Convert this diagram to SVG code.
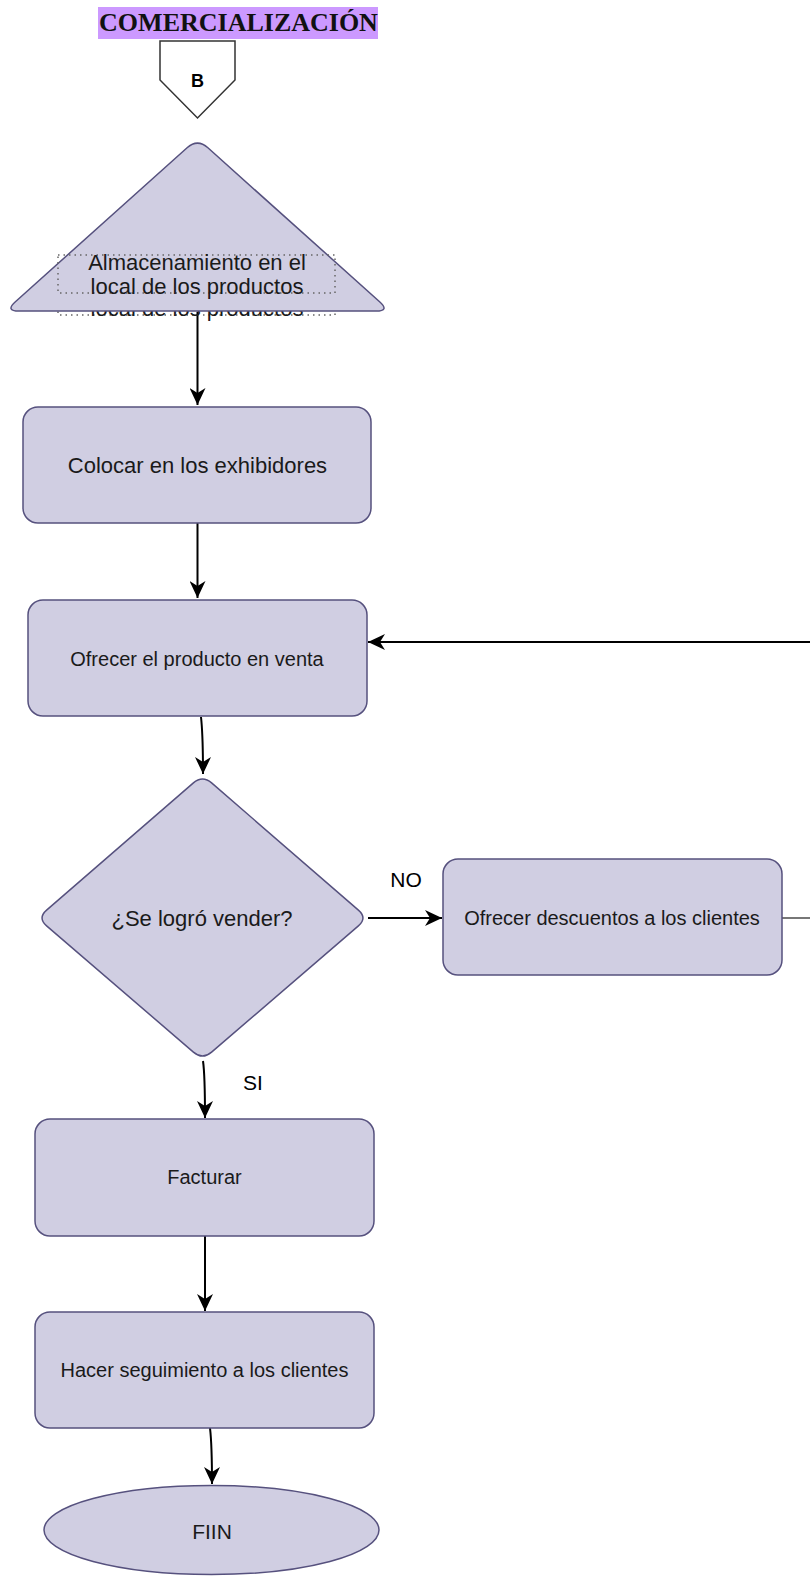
<svg xmlns="http://www.w3.org/2000/svg" width="810" height="1577" viewBox="0 0 810 1577">
<defs>
<style>
.node{fill:#d0cee2;stroke:#56517e;stroke-width:1.5}
.lbl{font-family:"Liberation Sans",Arial,sans-serif;fill:#1a1a1a;text-anchor:middle}
.edge{fill:none;stroke:#000;stroke-width:2}
.elbl{font-family:"Liberation Sans",Arial,sans-serif;fill:#000;font-size:21px;text-anchor:middle}
.dots{fill:none;stroke:#666;stroke-width:1.5;stroke-dasharray:1.5 4}
</style>
<marker id="arr" markerUnits="userSpaceOnUse" markerWidth="18" markerHeight="16" refX="17" refY="8" orient="auto">
<path d="M0,0 L17,8 L0,16 L5,8 Z" fill="#000"/>
</marker>
</defs>
<rect width="810" height="1577" fill="#fff"/>

<g id="title">
<rect x="98" y="7" width="280" height="32" fill="#cc99ff"/>
<text x="238.5" y="31" font-family="'Liberation Serif','Times New Roman',serif" font-weight="bold" font-size="26" text-anchor="middle" fill="#111">COMERCIALIZACIÓN</text>
</g>

<g id="connectors">
<path class="edge" d="M197.5,312 V405" marker-end="url(#arr)"/>
<path class="edge" d="M197.5,523 V598" marker-end="url(#arr)"/>
<path class="edge" d="M201,717 Q203,735 203,774" marker-end="url(#arr)"/>
<path class="edge" d="M368,918 H442" marker-end="url(#arr)"/>
<path d="M782,918 H810" fill="none" stroke="#777" stroke-width="2"/>
<path class="edge" d="M812,642 H368" marker-end="url(#arr)"/>
<path class="edge" d="M203,1061 Q205,1075 205,1118" marker-end="url(#arr)"/>
<path class="edge" d="M205,1236 V1311" marker-end="url(#arr)"/>
<path class="edge" d="M210,1428 Q212,1445 212,1484" marker-end="url(#arr)"/>
<text class="elbl" x="406" y="887">NO</text>
<text class="elbl" x="253" y="1090">SI</text>
</g>

<g id="connector-B">
<path d="M160,41 H235 V80 L197.5,118 L160,80 Z" fill="#fff" stroke="#333" stroke-width="1.5"/>
<text x="197.5" y="87" font-family="'Liberation Sans',Arial,sans-serif" font-weight="bold" font-size="18" text-anchor="middle" fill="#000">B</text>
</g>

<g id="almacenamiento">
<rect class="dots" x="58" y="277" width="277" height="38"/>
<text class="lbl" x="197" y="316" font-size="22">local de los productos</text>
<path class="node" d="M207.9,147.8 L379.6,301.7 Q390,311 376,311 L19,311 Q5,311 15.4,301.7 L187.1,147.8 Q197.5,138.5 207.9,147.8 Z"/>
<rect class="dots" x="58" y="255" width="277" height="38"/>
<text class="lbl" x="197" y="270" font-size="22">Almacenamiento en el</text>
<text class="lbl" x="197" y="294" font-size="22">local de los productos</text>
</g>

<g id="colocar">
<rect class="node" x="23" y="407" width="348" height="116" rx="15"/>
<text class="lbl" x="197.5" y="472.5" font-size="22">Colocar en los exhibidores</text>
</g>

<g id="ofrecer">
<rect class="node" x="28" y="600" width="339" height="116" rx="15"/>
<text class="lbl" x="197" y="666" font-size="20">Ofrecer el producto en venta</text>
</g>

<g id="decision">
<path class="node" d="M211.6,782.9 L358.4,910.1 Q367.5,918 358.4,925.9 L211.6,1052.1 Q202.5,1060 193.4,1052.1 L46.6,925.9 Q37.5,918 46.6,910.1 L193.4,782.9 Q202.5,775 211.6,782.9 Z"/>
<text class="lbl" x="202" y="925.5" font-size="22">¿Se logró vender?</text>
</g>

<g id="descuentos">
<rect class="node" x="443" y="859" width="339" height="116" rx="15"/>
<text class="lbl" x="612" y="925" font-size="20">Ofrecer descuentos a los clientes</text>
</g>

<g id="facturar">
<rect class="node" x="35" y="1119" width="339" height="117" rx="15"/>
<text class="lbl" x="204.5" y="1184" font-size="20">Facturar</text>
</g>

<g id="seguimiento">
<rect class="node" x="35" y="1312" width="339" height="116" rx="15"/>
<text class="lbl" x="204.5" y="1377" font-size="20">Hacer seguimiento a los clientes</text>
</g>

<g id="fin">
<ellipse class="node" cx="211.5" cy="1530" rx="167.5" ry="44.5"/>
<text class="lbl" x="212" y="1539" font-size="21">FIIN</text>
</g>
</svg>
